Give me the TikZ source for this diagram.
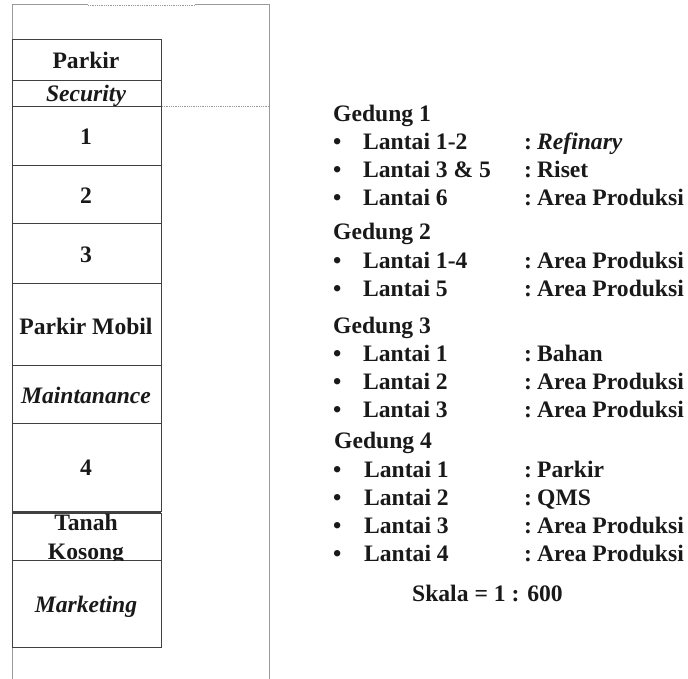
\documentclass[tikz,border=0pt]{standalone}
\usepackage{fontspec}
\setmainfont{Liberation Serif}
\usetikzlibrary{calc}
\tikzset{
  x=1pt,y=-1pt,
  room/.style={draw=black!75,line width=1pt,fill=none},
  site/.style={draw=black!40,line width=1pt},
  dots/.style={draw=black!40,line width=.8pt,densely dotted},
  lbl/.style={font=\fontsize{23.6}{23.6}\selectfont\bfseries,anchor=base,inner sep=0pt,text=black!90},
  ilbl/.style={lbl,font=\fontsize{23.6}{23.6}\selectfont\bfseries\itshape},
  txt/.style={font=\fontsize{23.6}{23.6}\selectfont\bfseries,anchor=base west,inner sep=0pt,text=black!90},
}
\newcommand{\itemrow}[4]{%
  \node[txt] at (333,#1) {\textbullet};
  \node[txt] at (#2,#1) {#3};
  \node[txt] at (524,#1) {:};
  \node[txt] at (537,#1) {#4};
}
\begin{document}
\begin{tikzpicture}
\useasboundingbox (0,0) rectangle (688,679);
% site outline
\coordinate (tl) at (12.5,5);
\coordinate (tr) at (269,5);
\coordinate (bl) at (12.5,679);
\coordinate (br) at (269,679);
\coordinate (da) at (88,5);
\coordinate (db) at (195,5);
\coordinate (dc) at (162,106);
\draw[site] (bl) -- (tl) -- (da);
\draw[site] (db) -- (tr) -- (br);
\draw[dots] (da) -- (db);
\draw[dots] (dc) -- (269,106);
% rooms
\foreach \n/\t/\b in {a/39.5/80.5,b/80.5/106.5,c/106.5/165.5,d/165.5/223.5,e/223.5/283.5,f/283.5/365.5,g/365.5/423.5,h/423.5/511.5,i/513.5/560.5,j/560.5/647.5}{
  \draw[room] (12,\t) rectangle (161,\b);
}
\draw[room,line width=1.6pt] (12,512) -- (161,512);
\node[lbl] (parkir) at (86,69) {Parkir};
\node[ilbl] (sec) at (86,102) {Security};
\node[lbl] (n1) at (86,144.5) {1};
\node[lbl] (n2) at (86,203.5) {2};
\node[lbl] (n3) at (86,262) {3};
\node[lbl] (pm) at (86,334) {Parkir Mobil};
\node[ilbl] (mt) at (86,403) {Maintanance};
\node[lbl] (n4) at (86,475) {4};
\node[lbl] (tk1) at (86,530.5) {Tanah};
\begin{scope}
\clip (12,530) rectangle (161,560);
\node[lbl] (tk2) at (86,559.5) {Kosong};
\end{scope}
\node[ilbl] (mk) at (86,612) {Marketing};
% legend
\node[txt] (g1) at (333,122) {Gedung 1};
\itemrow{150}{363}{Lantai 1-2}{\textit{Refinary}}
\itemrow{178}{363}{Lantai 3 \& 5}{Riset}
\itemrow{206}{363}{Lantai 6}{Area Produksi}
\node[txt] (g2) at (333,240) {Gedung 2};
\itemrow{268}{363}{Lantai 1-4}{Area Produksi}
\itemrow{296}{363}{Lantai 5}{Area Produksi}
\node[txt] (g3) at (333,333) {Gedung 3};
\itemrow{361}{363}{Lantai 1}{Bahan}
\itemrow{389}{363}{Lantai 2}{Area Produksi}
\itemrow{417}{363}{Lantai 3}{Area Produksi}
\node[txt] (g4) at (334,448) {Gedung 4};
\itemrow{477}{364}{Lantai 1}{Parkir}
\itemrow{505}{364}{Lantai 2}{QMS}
\itemrow{533}{364}{Lantai 3}{Area Produksi}
\itemrow{561}{364}{Lantai 4}{Area Produksi}
\node[txt] (sk) at (412,601) {Skala = 1 : 600};
\end{tikzpicture}
\end{document}
